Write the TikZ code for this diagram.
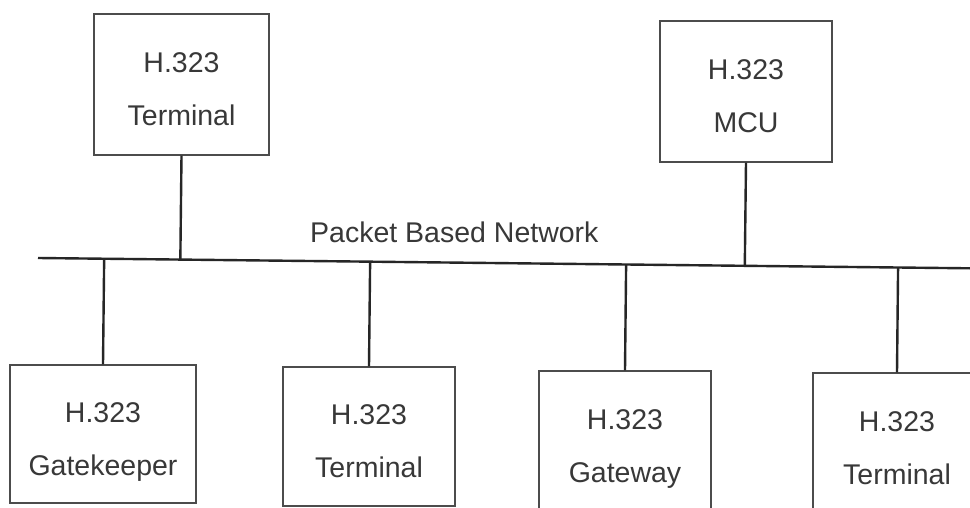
\documentclass[tikz,border=0pt]{standalone}
\usepackage{fontspec}
\setmainfont{Liberation Sans}
\usetikzlibrary{calc}
\begin{document}
\begin{tikzpicture}[x=1pt,y=1pt,
  unit/.style={draw=black!70, line width=1.2pt, inner sep=0pt, align=center,
    font=\fontsize{28.5}{53}\selectfont, text=black!78,
    text height=82pt, text depth=0pt},
  link/.style={line width=2.4pt, draw=black!85},
  caption/.style={font=\fontsize{28.5}{34}\selectfont, text=black!78, inner sep=0pt}]
  \clip (0,0) rectangle (970,-508);
  \fill[white] (0,0) rectangle (970,-508);

  % the shared packet network
  \coordinate (busL) at (38,-258);
  \coordinate (busR) at (970,-268.3);
  \draw[link] (busL) -- (busR);
  \node[caption, anchor=base west] (net) at (310,-242) {Packet Based Network};

  % units above the network
  \node[unit, minimum width=175pt, minimum height=141pt] (term1) at (181.5,-84.5) {H.323\\Terminal};
  \node[unit, minimum width=172pt, minimum height=141pt] (mcu) at (746,-91.5) {H.323\\MCU};

  % units below the network
  \node[unit, minimum width=186pt, minimum height=138pt] (gk) at (103,-434) {H.323\\Gatekeeper};
  \node[unit, minimum width=172pt, minimum height=139pt] (term2) at (369,-436.5) {H.323\\Terminal};
  \node[unit, minimum width=172pt, minimum height=140pt] (gw) at (625,-441) {H.323\\Gateway};
  \node[unit, minimum width=168pt, minimum height=140pt] (term3) at (897,-443) {H.323\\Terminal};

  % drops to the network
  \foreach \n/\a in {term1/south, mcu/south, gk/north, term2/north, gw/north, term3/north}
    \draw[link] (\n.\a) -- ($(busL)!(\n.\a)!(busR)$);
\end{tikzpicture}
\end{document}
